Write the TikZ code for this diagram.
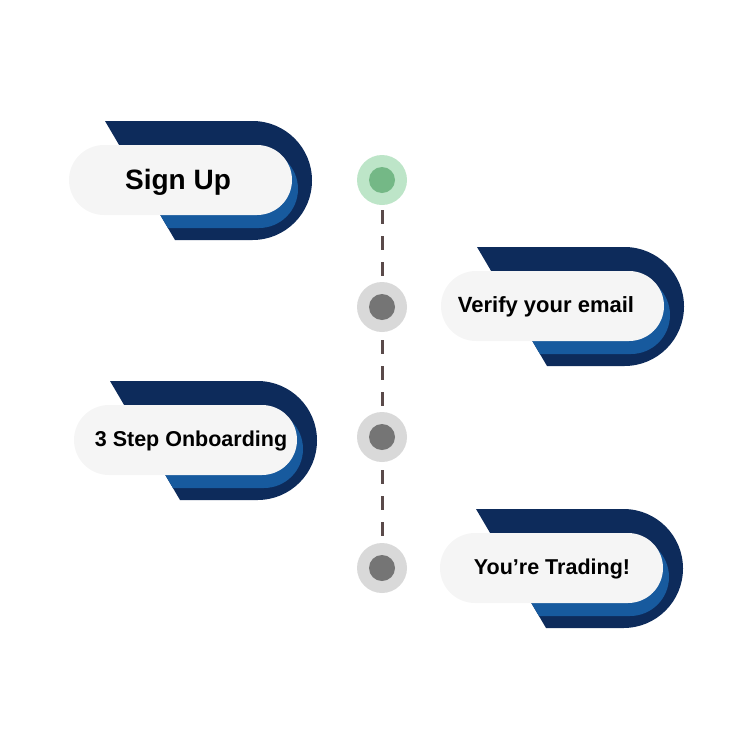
\documentclass[tikz,border=0pt]{standalone}
\usepackage{fontspec}
\setmainfont{Liberation Sans}
\usetikzlibrary{backgrounds}
\definecolor{navy}{HTML}{0D2B5B}
\definecolor{mblue}{HTML}{175A9E}
\definecolor{pill}{HTML}{F5F5F5}
\definecolor{gout}{HTML}{BDE5C8}
\definecolor{gin}{HTML}{74B886}
\definecolor{dout}{HTML}{D9D9D9}
\definecolor{din}{HTML}{757575}
\definecolor{dashc}{HTML}{5A4A4A}
\tikzset{
  outer/.style={circle,minimum size=50pt,inner sep=0pt,fill=dout},
  inner/.style={circle,minimum size=26pt,inner sep=0pt,fill=din},
  lbl/.style={text=black}
}
\newcommand{\mycard}[7]{%
  \def\dk{(#1,#2) -- (#1+147.5,#2) arc[start angle=-90,end angle=90,radius=59.5] -- (#1+70,#2+119) -- cycle}
  \fill[navy] \dk;
  \begin{scope}\clip \dk;
    \fill[mblue,rounded corners=39pt] (#1-20,#2+29) rectangle (#1+193,#2+107);
  \end{scope}
  \fill[pill,rounded corners=35pt] (#1-36,#2+24) rectangle (#1+187,#2+94);
  \node[lbl,font=\fontsize{#5}{#5}\selectfont\bfseries] (#3) at (#6,#7) {#4};
}
\begin{document}
\begin{tikzpicture}[x=1pt,y=-1pt]
\useasboundingbox (0,0) rectangle (750,750);
\mycard{105}{121}{t1}{Sign Up}{28}{178}{182}
\mycard{477}{247}{t2}{Verify your email}{22}{546}{307}
\mycard{110}{381}{t3}{3 Step Onboarding}{21.5}{191}{441}
\mycard{476}{509}{t4}{You’re Trading!}{21.5}{552}{569}
\node[outer,fill=gout] (d1) at (382,180) {};
\node[inner,fill=gin] (i1) at (d1) {};
\node[outer] (d2) at (382,307) {};
\node[inner] (i2) at (d2) {};
\node[outer] (d3) at (382,437) {};
\node[inner] (i3) at (d3) {};
\node[outer] (d4) at (382,568) {};
\node[inner] (i4) at (d4) {};
\begin{pgfonlayer}{background}
\draw[dashc,line width=3pt,dash pattern=on 14pt off 12pt,dash phase=-4pt] (d1.center) -- (d4.center);
\end{pgfonlayer}
\end{tikzpicture}
\end{document}
